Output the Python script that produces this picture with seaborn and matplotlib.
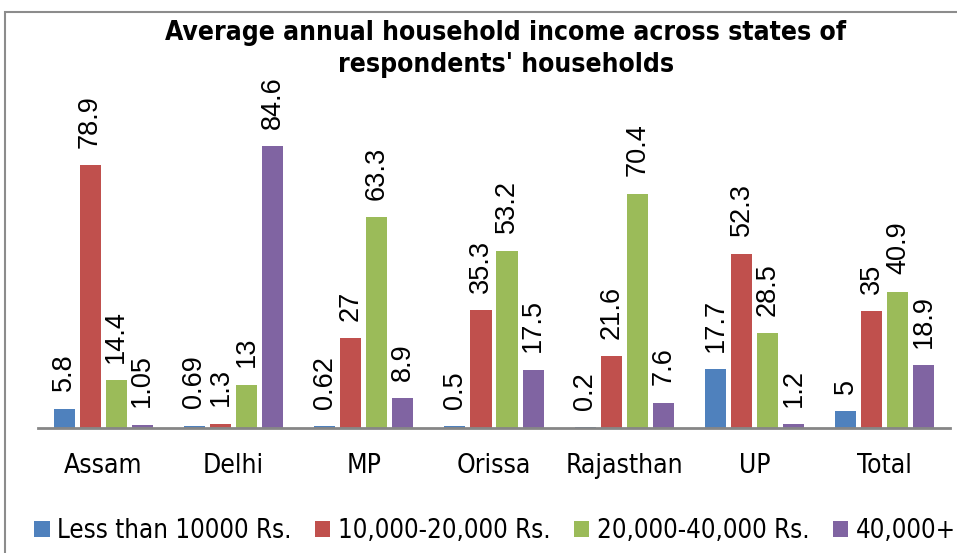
import matplotlib
matplotlib.use("Agg")
import matplotlib.pyplot as plt
import seaborn as sns
import pandas as pd
from matplotlib.patches import Rectangle, Patch

states = ["Assam", "Delhi", "MP", "Orissa", "Rajasthan", "UP", "Total"]
series_names = ["Less than 10000 Rs.", "10,000-20,000 Rs.", "20,000-40,000 Rs.", "40,000+"]
less_10000 = [5.8, 0.69, 0.62, 0.5, 0.2, 17.7, 5]
r10_20k = [78.9, 1.3, 27, 35.3, 21.6, 52.3, 35]
r20_40k = [14.4, 13, 63.3, 53.2, 70.4, 28.5, 40.9]
r40k_plus = [1.05, 84.6, 8.9, 17.5, 7.6, 1.2, 18.9]
colors = ["#4F81BD", "#C0504D", "#9BBB59", "#8064A2"]
title = "Average annual household income across states of\nrespondents' households"

rows = []
for name, vals in zip(series_names, [less_10000, r10_20k, r20_40k, r40k_plus]):
    for s, v in zip(states, vals):
        rows.append({"State": s, "Income": name, "Value": v})
df = pd.DataFrame(rows)

sns.set_style("white")
plt.rcParams["font.family"] = ["DejaVu Sans"]
plt.rcParams["text.color"] = "black"
plt.rcParams["xtick.color"] = "black"

W, H = 957, 553
fig = plt.figure(figsize=(W / 100, H / 100), dpi=100)
ax = fig.add_axes([38 / W, 125 / H, 912 / W, 333 / H])

sns.barplot(data=df, x="State", y="Value", hue="Income", order=states,
            hue_order=series_names, palette=colors, width=0.8, gap=0.19,
            ax=ax, legend=False, saturation=1, linewidth=0)
ax.set_ylim(0, 100)
ax.set_xlim(-0.5, len(states) - 0.5)

for container in ax.containers:
    for b in container:
        ax.annotate(f"{b.get_height():g}", (b.get_x() + b.get_width() / 2, b.get_height()),
                    xytext=(0, 12.5), textcoords="offset points",
                    rotation=90, ha="center", va="bottom",
                    fontsize=19.5, family="Liberation Sans", color="black")

for sp in ["top", "right", "left"]:
    ax.spines[sp].set_visible(False)
ax.spines["bottom"].set_color("#868686")
ax.spines["bottom"].set_linewidth(2)
ax.set_yticks([])
ax.set_xlabel("")
ax.set_ylabel("")
ax.tick_params(axis="x", length=0, pad=18, colors="black")
for t in ax.get_xticklabels():
    t.set_fontsize(19)
    t.set_fontstretch("condensed")
    t.set_color("black")

fig.text(506 / W, 1 - 20 / H, title, ha="center", va="top", fontsize=19,
         fontweight="bold", fontstretch="condensed", linespacing=1.3, color="black")

handles = [Patch(facecolor=c, edgecolor="none") for c in colors]
leg = fig.legend(handles, series_names, loc="center", bbox_to_anchor=(495 / W, 1 - 531 / H),
                 ncol=4, frameon=False, handlelength=0.6, handleheight=0.6,
                 handletextpad=0.3, columnspacing=0.9,
                 prop={"size": 18.5, "stretch": "condensed"})
for t in leg.get_texts():
    t.set_color("black")

fig.patches.append(Rectangle((5 / W, -0.1), 1.2, 1.1 - 12 / H, transform=fig.transFigure,
                             fill=False, edgecolor="#8c8c8c", linewidth=1.5, clip_on=False))

fig.savefig("out.png", dpi=100)
